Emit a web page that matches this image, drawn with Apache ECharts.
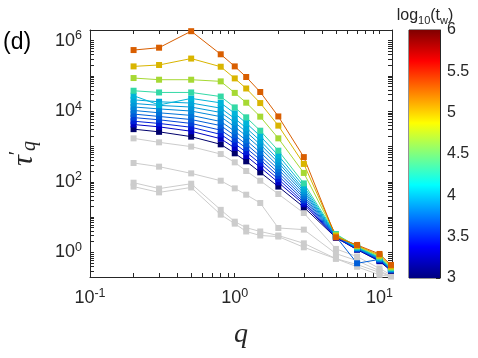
<!DOCTYPE html>
<html>
<head>
<meta charset="utf-8">
<script src="https://cdn.jsdelivr.net/npm/echarts@6/dist/echarts.min.js"></script>
<style>
  html, body { margin: 0; padding: 0; background: #fff; }
  #chart { width: 478px; height: 358px; }
</style>
</head>
<body>
<div id="chart"></div>
<script>
// wave numbers q
const q = [0.2, 0.3, 0.5, 0.8, 1, 1.2, 1.5, 2, 3, 5, 7, 10, 12];

// tau'_q for each waiting time t_w (coloured curves)
const tw1e3 = [3100, 2600, 1900, 1150, 640, 380, 185, 73, 19, 2.6, 1.19, 0.56, 0.30];
const tw2e3 = [4200, 3600, 2700, 1660, 910, 535, 256, 96, 23, 2.6, 1.22, 0.58, 0.31];
const tw3e3 = [5200, 4500, 3500, 2200, 1200, 690, 330, 119, 26, 2.7, 1.23, 0.60, 0.32];
const tw4e3 = [6600, 5700, 4500, 2900, 1570, 900, 420, 147, 30, 2.75, 1.26, 0.62, 0.32];
const tw5e3 = [8300, 7100, 5800, 3900, 2050, 1160, 530, 180, 35, 2.8, 0.49, 0.63, 0.32];
const tw6e3 = [10500, 9000, 7600, 5100, 2700, 1500, 680, 225, 40, 2.9, 1.3, 0.65, 0.33];
const tw7e3 = [13200, 11600, 10100, 7000, 3600, 2000, 900, 280, 47, 2.95, 1.32, 0.66, 0.335];
const tw8e3 = [16600, 14600, 13100, 9200, 4800, 2600, 1140, 350, 54, 3.0, 1.35, 0.68, 0.34];
const tw9e3 = [21000, 18500, 17000, 12200, 6200, 3350, 1460, 430, 62, 3.1, 1.38, 0.69, 0.35];
const tw1e4 = [27500, 15000, 23000, 17200, 8700, 4600, 1970, 560, 74, 3.16, 1.41, 0.71, 0.35];
const tw2e4 = [38000, 34000, 34000, 26000, 12800, 6700, 2800, 760, 90, 3.3, 1.45, 0.73, 0.36];
const tw5e4 = [87000, 78000, 78000, 70000, 33000, 17400, 7000, 1700, 178, 3.07, 1.5, 0.78, 0.38];
const tw1e5 = [186000, 204000, 310000, 182000, 85000, 44000, 17000, 3900, 320, 2.9, 1.55, 0.83, 0.41];
const tw2e5 = [540000, 630000, 1850000, 410000, 186000, 93000, 35000, 7100, 500, 2.66, 1.62, 0.90, 0.44];

// log10(t_w) of the coloured curves, same order
const twLog = [3, 3.301, 3.477, 3.602, 3.699, 3.778, 3.845, 3.903, 3.954, 4, 4.301, 4.699, 5, 5.301];
const twData = [tw1e3, tw2e3, tw3e3, tw4e3, tw5e3, tw6e3, tw7e3, tw8e3, tw9e3, tw1e4, tw2e4, tw5e4, tw1e5, tw2e5];

// grey curves
const greyA = [1700, 1310, 990, 610, 355, 202, 107, 45, 13, 1.25, 0.76, 0.35, 0.23];
const greyB = [340, 268, 173, 107, 65, 43, 25, 4.9, 4.4, 0.92, 0.58, 0.30, 0.21];
const greyC = [94, 64, 88, 16, 7.4, 5.0, 3.9, 3.0, 1.8, 0.66, 0.45, 0.27, 0.21];
const greyD = [73, 50, 69, 11.7, 6.5, 3.9, 3.0, 2.8, 1.39, 0.66, 0.39, 0.23, 0.21];
const greyData = [greyA, greyB, greyC, greyD];

// ticks
const xLabels = [0.1, 1, 10];
const xTicks = [0.1, 0.2, 0.3, 0.4, 0.5, 0.6, 0.7, 0.8, 0.9, 1, 2, 3, 4, 5, 6, 7, 8, 9, 10];
const yLabels = [1, 100, 10000, 1000000];
const yTicks = [0.2, 0.3, 0.4, 0.5, 0.6, 0.7, 0.8, 0.9,
  1, 2, 3, 4, 5, 6, 7, 8, 9,
  10, 20, 30, 40, 50, 60, 70, 80, 90,
  100, 200, 300, 400, 500, 600, 700, 800, 900,
  1e3, 2e3, 3e3, 4e3, 5e3, 6e3, 7e3, 8e3, 9e3,
  1e4, 2e4, 3e4, 4e4, 5e4, 6e4, 7e4, 8e4, 9e4,
  1e5, 2e5, 3e5, 4e5, 5e5, 6e5, 7e5, 8e5, 9e5,
  1e6, 2e6];
const cbarMin = 3, cbarMax = 6;

function jet(t) {
  const c = v => Math.max(0, Math.min(1, v));
  return [c(1.5 - Math.abs(4 * t - 3)), c(1.5 - Math.abs(4 * t - 2)), c(1.5 - Math.abs(4 * t - 1))];
}
function rgb(a, k) {
  return 'rgb(' + a.map(v => Math.round(v * 255 * k)).join(',') + ')';
}

const ink = '#262626';
const tickFont = 'Liberation Sans';
const powRich = {
  b: { fontSize: 18, fontFamily: tickFont, color: ink },
  e: { fontSize: 12.5, fontFamily: tickFont, color: ink, padding: [0, 0, 10, 0] }
};
function powFmt(v) {
  return '{b|10}{e|' + Math.round(Math.log10(v)) + '}';
}

const series = [];
greyData.forEach(arr => {
  series.push({
    type: 'line', xAxisIndex: 0, yAxisIndex: 0,
    data: q.map((x, i) => [x, arr[i]]),
    symbol: 'rect', symbolSize: 6,
    lineStyle: { width: 1, color: '#cccccc' },
    itemStyle: { color: '#cccccc' },
    animation: false
  });
});
twData.forEach((arr, k) => {
  const col = rgb(jet((twLog[k] - cbarMin) / (cbarMax - cbarMin)), 0.85);
  series.push({
    type: 'line', xAxisIndex: 0, yAxisIndex: 0,
    data: q.map((x, i) => [x, arr[i]]),
    symbol: 'rect', symbolSize: 6,
    lineStyle: { width: 1, color: col },
    itemStyle: { color: col },
    animation: false
  });
});

// colour bar: a transparent base bar plus a gradient bar stacked on it
const jetStops = [0, 0.125, 0.375, 0.625, 0.875, 1].map(t => ({
  offset: t, color: rgb(jet(t), 1)
}));
series.push({
  type: 'bar', xAxisIndex: 2, yAxisIndex: 2, stack: 'cb',
  data: [cbarMin], barWidth: '100%', itemStyle: { color: 'rgba(0,0,0,0)' },
  silent: true, animation: false
});
series.push({
  type: 'bar', xAxisIndex: 2, yAxisIndex: 2, stack: 'cb',
  data: [cbarMax - cbarMin], barWidth: '100%',
  itemStyle: { color: new echarts.graphic.LinearGradient(0, 1, 0, 0, jetStops) },
  silent: true, animation: false
});

const logAxisBase = {
  type: 'log', logBase: 10,
  axisLine: { show: true, lineStyle: { color: ink, width: 1 } },
  splitLine: { show: false },
  minorTick: { show: false }
};

const chart = echarts.init(document.getElementById('chart'), null, { renderer: 'canvas' });
chart.setOption({
  backgroundColor: '#fff',
  animation: false,
  grid: [
    { left: 86, top: 30, width: 306, height: 247 },
    { left: 409, top: 30, width: 31, height: 248, show: true, borderColor: ink, borderWidth: 1 }
  ],
  xAxis: [
    Object.assign({}, logAxisBase, {
      gridIndex: 0, position: 'bottom', min: 0.1, max: 12.2,
      axisTick: { show: true, inside: true, length: 4, lineStyle: { color: ink }, customValues: xTicks },
      axisLabel: { customValues: xLabels, formatter: powFmt, rich: powRich, margin: 10 },
      name: 'q', nameLocation: 'middle', nameGap: 44,
      nameTextStyle: { fontFamily: 'Liberation Serif', fontStyle: 'italic', fontSize: 28, color: ink }
    }),
    Object.assign({}, logAxisBase, {
      gridIndex: 0, position: 'top', min: 0.1, max: 12.2,
      axisTick: { show: true, inside: true, length: 4, lineStyle: { color: ink }, customValues: xTicks },
      axisLabel: { show: false }
    }),
    { type: 'category', gridIndex: 1, data: ['cb'], show: false, boundaryGap: true }
  ],
  yAxis: [
    Object.assign({}, logAxisBase, {
      gridIndex: 0, position: 'left', min: 0.2, max: 2e6,
      axisTick: { show: true, inside: true, length: 4, lineStyle: { color: ink }, customValues: yTicks },
      axisLabel: { customValues: yLabels, formatter: powFmt, rich: powRich, margin: 8 },
      name: '{t|τ}{p|′}{s|q}', nameLocation: 'middle', nameGap: 50, nameRotate: 90,
      nameTextStyle: {
        rich: {
          t: { fontFamily: 'Liberation Serif', fontStyle: 'italic', fontSize: 30, color: ink },
          p: { fontFamily: 'Liberation Serif', fontSize: 20, color: ink, padding: [0, 0, 12, 0] },
          s: { fontFamily: 'Liberation Serif', fontStyle: 'italic', fontSize: 20, color: ink, padding: [12, 0, 0, 0] }
        }
      }
    }),
    Object.assign({}, logAxisBase, {
      gridIndex: 0, position: 'right', min: 0.2, max: 2e6,
      axisTick: { show: true, inside: true, length: 4, lineStyle: { color: ink }, customValues: yTicks },
      axisLabel: { show: false }
    }),
    {
      type: 'value', gridIndex: 1, position: 'right', min: cbarMin, max: cbarMax, interval: 0.5,
      axisLine: { show: true, lineStyle: { color: ink } },
      axisTick: { show: true, inside: true, length: 4, lineStyle: { color: ink } },
      axisLabel: { fontSize: 16, fontFamily: tickFont, color: ink, margin: 7 },
      splitLine: { show: false }
    }
  ],
  graphic: [
    {
      type: 'text', left: 3, top: 31,
      style: { text: '(d)', fontSize: 23, fontFamily: tickFont, fill: '#000' }
    },
    {
      type: 'text', x: 425, y: 16,
      style: {
        text: '{a|log}{s|10}{a|(t}{s|w}{a|)}',
        align: 'center', verticalAlign: 'middle',
        rich: {
          a: { fontSize: 16, fontFamily: tickFont, fill: ink },
          s: { fontSize: 11, fontFamily: tickFont, fill: ink, padding: [10, 0, 0, 0] }
        }
      }
    }
  ],
  series: series
});
</script>
</body>
</html>
